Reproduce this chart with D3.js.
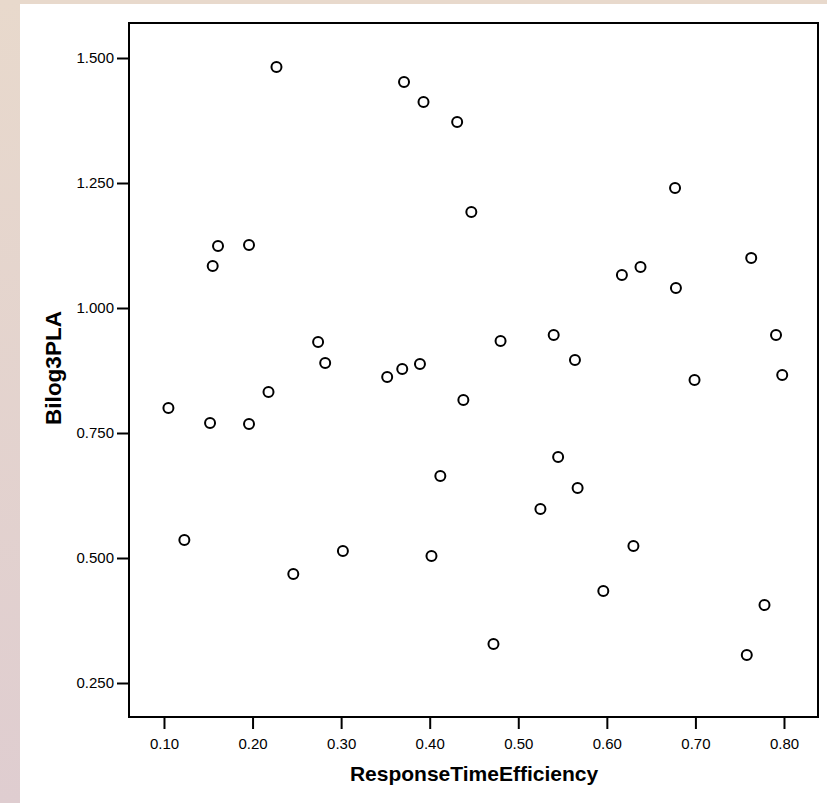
<!DOCTYPE html>
<html>
<head>
<meta charset="utf-8">
<script src="https://cdn.jsdelivr.net/npm/d3@7"></script>
<style>
  body { margin: 0; overflow: hidden; }
  text { font-family: "Liberation Sans", Arial, sans-serif; }
</style>
</head>
<body>
<svg id="chart" width="827" height="803"></svg>
<script>
const xVals = [0.105, 0.152, 0.196, 0.218, 0.123, 0.246, 0.302, 0.155, 0.161, 0.196, 0.227,
  0.274, 0.282, 0.352, 0.369, 0.389, 0.480, 0.540, 0.564, 0.438, 0.545, 0.412, 0.567, 0.525,
  0.402, 0.596, 0.472, 0.371, 0.393, 0.431, 0.447, 0.677, 0.617, 0.638, 0.678, 0.763, 0.791,
  0.798, 0.699, 0.630, 0.778, 0.758]
const yVals = [0.800, 0.770, 0.768, 0.832, 0.536, 0.468, 0.514, 1.084, 1.124, 1.126, 1.482,
  0.932, 0.890, 0.862, 0.878, 0.888, 0.934, 0.946, 0.896, 0.816, 0.702, 0.664, 0.640, 0.598,
  0.504, 0.434, 0.328, 1.452, 1.412, 1.372, 1.192, 1.240, 1.066, 1.082, 1.040, 1.100, 0.946,
  0.866, 0.856, 0.524, 0.406, 0.306]
const xTicks = [0.1, 0.2, 0.3, 0.4, 0.5, 0.6, 0.7, 0.8]
const yTicks = [0.25, 0.5, 0.75, 1.0, 1.25, 1.5]

const svg = d3.select('#chart')
const defs = svg.append('defs')
const grad = defs.append('linearGradient').attr('id', 'bg').attr('x1', 0).attr('y1', 0).attr('x2', 0).attr('y2', 1)
grad.append('stop').attr('offset', '0%').attr('stop-color', '#e8d9cc')
grad.append('stop').attr('offset', '100%').attr('stop-color', '#dfcdd0')
svg.append('rect').attr('width', 827).attr('height', 803).attr('fill', 'url(#bg)')
svg.append('rect').attr('x', 20).attr('y', 4).attr('width', 807).attr('height', 799).attr('fill', '#fff')

const pLeft = 129, pRight = 818, pTop = 23, pBottom = 717
const x = d3.scaleLinear().domain([0.0605, 0.8384]).range([pLeft, pRight])
const y = d3.scaleLinear().domain([0.182, 1.57]).range([pBottom, pTop])

svg.append('rect').attr('x', pLeft).attr('y', pTop).attr('width', pRight - pLeft).attr('height', pBottom - pTop)
  .attr('fill', 'none').attr('stroke', '#000').attr('stroke-width', 2)

const xAxis = svg.append('g').attr('transform', `translate(0,${pBottom + 1})`)
  .call(d3.axisBottom(x).tickValues(xTicks).tickFormat(d3.format('.2f')).tickSize(11).tickSizeOuter(0))
const yAxis = svg.append('g').attr('transform', `translate(${pLeft - 1},0)`)
  .call(d3.axisLeft(y).tickValues(yTicks).tickFormat(d3.format('.3f')).tickSize(11).tickSizeOuter(0))
for (const a of [xAxis, yAxis]) {
  a.select('.domain').remove()
  a.selectAll('line').attr('stroke', '#000').attr('stroke-width', 2)
  a.selectAll('text').attr('font-size', 15).attr('fill', '#000')
    .attr('font-family', '"Liberation Sans", Arial, sans-serif')
}
xAxis.selectAll('text').attr('y', 20).attr('dy', '0.71em')
yAxis.selectAll('text').attr('x', -14)

svg.selectAll('circle.pt').data(xVals).join('circle').attr('class', 'pt')
  .attr('cx', d => x(d)).attr('cy', (d, i) => y(yVals[i])).attr('r', 5)
  .attr('fill', 'none').attr('stroke', '#000').attr('stroke-width', 2)

svg.append('text').attr('x', 474).attr('y', 781).attr('text-anchor', 'middle')
  .attr('font-size', 21).attr('font-weight', 'bold').text('ResponseTimeEfficiency')
svg.append('text').attr('transform', `translate(61,368) rotate(-90)`)
  .attr('text-anchor', 'middle').attr('font-size', 22.5).attr('font-weight', 'bold').text('Bilog3PLA')
</script>
</body>
</html>
